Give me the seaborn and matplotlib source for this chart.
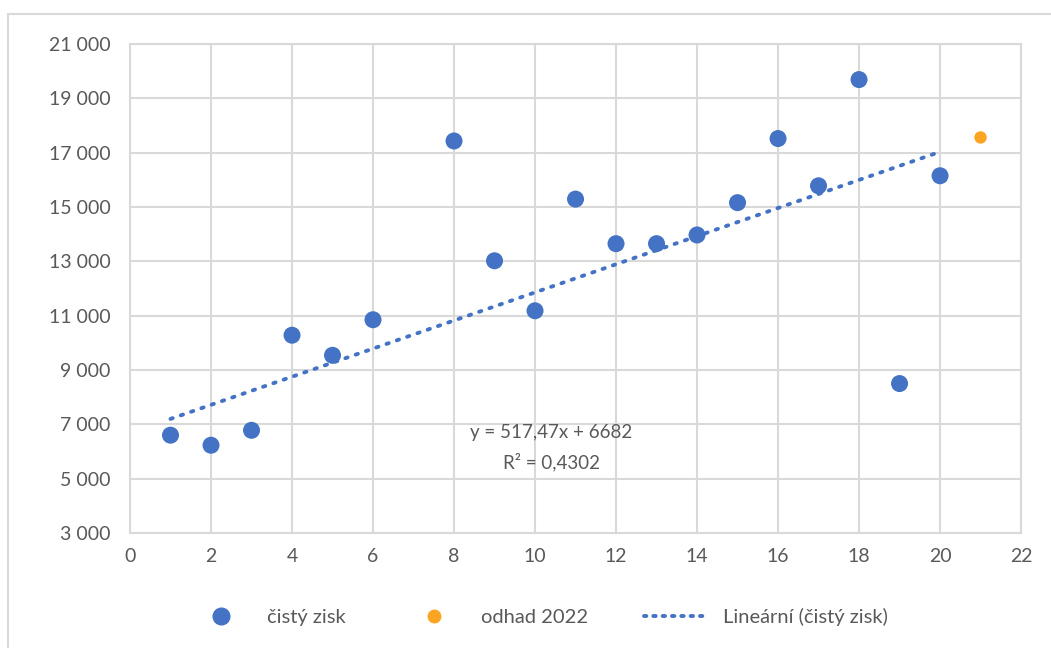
import numpy as np
import pandas as pd
import seaborn as sns
import matplotlib.pyplot as plt
from matplotlib.ticker import FuncFormatter, MultipleLocator
from matplotlib.lines import Line2D
from matplotlib.patches import Rectangle

# data
roky = [1, 2, 3, 4, 5, 6, 8, 9, 10, 11, 12, 13, 14, 15, 16, 17, 18, 19, 20]
cisty_zisk = [6600, 6230, 6780, 10280, 9540, 10850, 17430, 13020, 11180, 15290,
              13650, 13650, 13970, 15160, 17520, 15780, 19690, 8500, 16150]
odhad_x = [21]
odhad_y = [17560]
slope, intercept = 517.47, 6682
y_ticks = list(range(3000, 21001, 2000))

blue = '#4472C4'
orange = '#FBA523'
grid_c = '#D9D9D9'
text_c = '#595959'

sns.set_style('white')
plt.rcParams['font.family'] = ['Lato', 'DejaVu Sans']

fig = plt.figure(figsize=(10.51, 6.48), dpi=100)
ax = fig.add_axes([0.1237, 0.1775, 0.8478, 0.7546])

# outer chart border
fig.patches.append(Rectangle((8 / 1051, -0.01), 1.1, (648 - 14) / 648 + 0.01,
                             transform=fig.transFigure, fill=False,
                             edgecolor=grid_c, linewidth=1.5))

df = pd.DataFrame({'rok': roky, 'zisk': cisty_zisk})
df2 = pd.DataFrame({'rok': odhad_x, 'zisk': odhad_y})

xs = np.array([min(roky), max(roky)])
ax.plot(xs, slope * xs + intercept, linestyle=(0, (0.6, 2.2)), color=blue,
        linewidth=2.8, dash_capstyle='round', zorder=2)

sns.scatterplot(data=df, x='rok', y='zisk', ax=ax, color=blue, s=150,
                edgecolor='none', zorder=3)
sns.scatterplot(data=df2, x='rok', y='zisk', ax=ax, color=orange, s=80,
                edgecolor='none', zorder=3)

ax.set_xlim(0, 22)
ax.set_ylim(3000, 21000)
ax.xaxis.set_major_locator(MultipleLocator(2))
ax.set_yticks(y_ticks)
ax.yaxis.set_major_formatter(FuncFormatter(lambda v, p: f'{int(v):,}'.replace(',', ' ')))
ax.grid(True, color=grid_c, linewidth=1.5)
ax.set_axisbelow(True)
for s in ax.spines.values():
    s.set_color(grid_c)
    s.set_linewidth(1.5)
ax.tick_params(axis='both', length=0, labelsize=14, colors=text_c)
ax.tick_params(axis='x', pad=11)
ax.tick_params(axis='y', pad=14)
ax.set_xlabel('')
ax.set_ylabel('')

ax.text(10.4, 6700, 'y = 517,47x + 6682', ha='center', va='center',
        fontsize=13.5, color=text_c)
ax.text(10.4, 5620, 'R² = 0,4302', ha='center', va='center',
        fontsize=13.5, color=text_c)

handles = [
    Line2D([], [], marker='o', linestyle='none', color=blue, markersize=12),
    Line2D([], [], marker='o', linestyle='none', color=orange, markersize=9),
    Line2D([], [], linestyle=(0, (0.6, 1.8)), color=blue, linewidth=2.8,
           dash_capstyle='round'),
]
labels = ['čistý zisk', 'odhad 2022', 'Lineární (čistý zisk)']
fig.legend(handles, labels, loc='center', bbox_to_anchor=(0.512, 0.048), ncol=3,
           frameon=False, fontsize=14.5, labelcolor=text_c, columnspacing=2.8,
           handletextpad=0.7, handlelength=3.2)

fig.savefig('out.png', dpi=100)
